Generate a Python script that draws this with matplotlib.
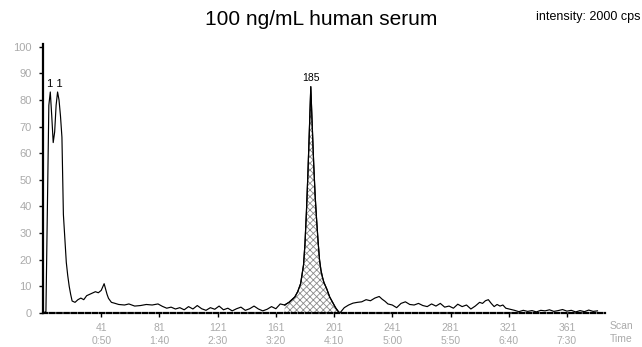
import numpy as np
import matplotlib.pyplot as plt

plt.rcParams['font.family'] = ['Liberation Sans', 'DejaVu Sans']

# relative intensity (%) against scan number
scans = [1, 3, 4, 5, 6, 7, 8, 9, 10, 11, 12, 13, 14, 15, 16, 17, 18, 19, 20, 21,
         23, 25, 27, 29, 31, 33, 35, 37, 39, 41, 43, 45, 46, 48, 50, 53, 57, 60,
         64, 68, 72, 76, 80, 83, 86, 89, 92, 95, 98, 101, 104, 107, 110, 113, 116,
         119, 122, 125, 128, 131, 134, 137, 140, 143, 146, 149, 152, 155, 158, 161,
         164, 167, 170, 172, 174, 176, 178, 180, 181, 182, 183, 184, 185, 186, 187,
         188, 189, 190, 191, 192, 193, 194, 196, 198, 200, 202, 204, 205, 208, 211, 214,
         217, 220, 223, 226, 229, 232, 234, 236, 238, 241, 244, 247, 250, 253, 256,
         259, 262, 265, 268, 271, 274, 277, 280, 283, 286, 289, 292, 295, 298, 301,
         303, 305, 307, 309, 311, 313, 315, 317, 319, 322, 325, 328, 331, 334, 337,
         340, 343, 346, 349, 352, 355, 358, 361, 364, 367, 370, 373, 376, 379, 382]
intensity = [0, 0.5, 40, 78, 83, 74, 64, 68, 78, 83, 80, 74, 66, 37, 28, 19, 14, 10, 7, 4.5,
             4, 5, 5.6, 5, 6.5, 7, 7.5, 8, 7.6, 8.5, 11, 7, 5.5, 4, 3.7, 3.2, 3, 3.4,
             2.6, 2.8, 3.2, 3, 3.4, 2.5, 1.8, 2.2, 1.5, 2, 1.2, 2.4, 1.5, 2.8, 1.6, 1, 2,
             1.4, 2.6, 1.2, 1.8, 0.8, 1.6, 2.2, 1, 1.6, 2.6, 1.5, 0.8, 1.4, 2.4, 1.6,
             3.4, 3, 4, 5, 6, 8, 11, 18, 26, 38, 52, 68, 85, 70, 56,
             44, 35, 27, 20, 16, 13.5, 11.5, 9, 6, 4, 2, 0.5, 0, 2, 3, 3.7,
             4, 4.2, 5, 4.6, 5.6, 6.2, 5.2, 4.4, 3.4, 3, 2, 3.6, 4.2, 3.2,
             3, 3.6, 2.8, 2.4, 3.4, 2.6, 3.6, 2.2, 2.6, 1.8, 3.3, 2.4, 3, 1.5, 2.6, 4,
             3.6, 4.6, 5, 3.6, 2.4, 3.2, 2.6, 3, 1.8, 1.4, 1, 0.5, 1, 0.6, 0.9,
             0.4, 1, 0.8, 1.2, 0.6, 0.9, 1.3, 0.7, 1, 0.4, 0.9, 0.5, 1.1, 0.6, 0.8]

peak_scans = [11, 185]
peak_heights = [83, 85]

tick_scans = [41, 81, 121, 161, 201, 241, 281, 321, 361]
tick_times = ['0:50', '1:40', '2:30', '3:20', '4:10', '5:00', '5:50', '6:40', '7:30']
y_ticks = [0, 10, 20, 30, 40, 50, 60, 70, 80, 90, 100]

plt.rcParams['hatch.linewidth'] = 0.6
fig = plt.figure(figsize=(6.42, 3.47), dpi=100)
ax = fig.add_axes([0.067, 0.098, 0.875, 0.775])

ax.plot(scans, intensity, color='black', lw=0.85)

# shade the analyte peak
s = np.array(scans)
v = np.array(intensity)
m = (s >= 166) & (s <= 205)
ax.fill_between(s[m], 0, v[m], facecolor='white', edgecolor='#8a8a8a',
                hatch='xxxxx', linewidth=0)
ax.plot(s[m], v[m], color='black', lw=0.85)

ax.text(peak_scans[0] - 2, peak_heights[0] + 2, '1 1', fontsize=8, ha='center')
ax.text(peak_scans[1], peak_heights[1] + 2, str(peak_scans[1]), fontsize=7.5, ha='center')

ax.set_xlim(1, 387)
ax.set_ylim(0, 101)

for side in ['top', 'right']:
    ax.spines[side].set_visible(False)
ax.spines['left'].set_linestyle((0, (1.5, 1)))
ax.spines['left'].set_linewidth(1.6)
ax.spines['bottom'].set_linestyle((0, (2, 1.2)))
ax.spines['bottom'].set_linewidth(1.6)

ax.set_yticks(y_ticks)
ax.set_yticklabels([str(t) for t in y_ticks], fontsize=8, color='#aaaaaa')
ax.tick_params(axis='y', length=3, width=1, pad=5)

ax.set_xticks(tick_scans)
ax.set_xticklabels([f'{n}\n{t}' for n, t in zip(tick_scans, tick_times)],
                   fontsize=7.5, color='#aaaaaa', linespacing=1.4)
ax.tick_params(axis='x', length=3, width=1, pad=4)
ax.text(1.03, -0.03, 'Scan\nTime', transform=ax.transAxes, fontsize=7.5,
        color='#aaaaaa', va='top', ha='center', linespacing=1.4)

fig.text(0.5, 0.945, '100 ng/mL human serum', fontsize=15, ha='center', va='center')
fig.text(0.997, 0.952, 'intensity: 2000 cps', fontsize=9, ha='right', va='center')

fig.savefig('out.png', dpi=100)
